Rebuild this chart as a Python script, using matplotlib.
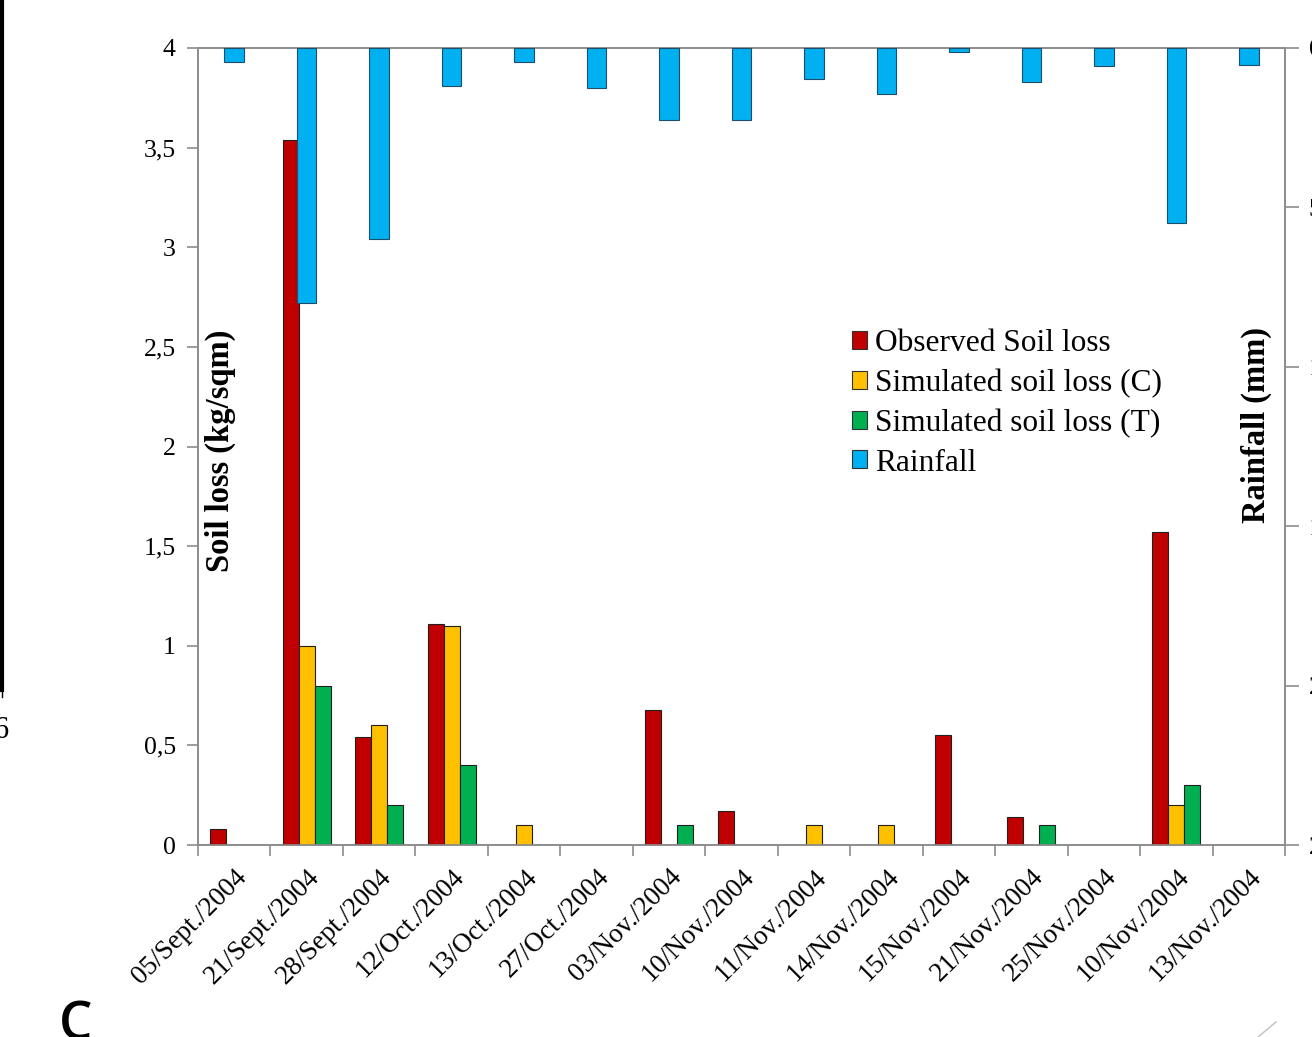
import matplotlib
matplotlib.use("Agg")
import matplotlib.pyplot as plt
from matplotlib.patches import Patch
from matplotlib.lines import Line2D
import numpy as np

dates = ["05/Sept./2004", "21/Sept./2004", "28/Sept./2004", "12/Oct./2004",
         "13/Oct./2004", "27/Oct./2004", "03/Nov./2004", "10/Nov./2004",
         "11/Nov./2004", "14/Nov./2004", "15/Nov./2004", "21/Nov./2004",
         "25/Nov./2004", "10/Nov./2004", "13/Nov./2004"]
observed = [0.08, 3.54, 0.54, 1.11, 0.0, 0.0, 0.68, 0.17, 0.0, 0.0, 0.55, 0.14, 0.0, 1.57, 0.0]
sim_c = [0.0, 1.0, 0.6, 1.1, 0.1, 0.0, 0.0, 0.0, 0.1, 0.1, 0.0, 0.0, 0.0, 0.2, 0.0]
sim_t = [0.0, 0.8, 0.2, 0.4, 0.0, 0.0, 0.1, 0.0, 0.0, 0.0, 0.0, 0.1, 0.0, 0.3, 0.0]
rainfall = [0.44, 8.0, 6.0, 1.2, 0.44, 1.25, 2.26, 2.26, 0.97, 1.44, 0.13, 1.07, 0.56, 5.5, 0.53]
left_ticks = [0, 0.5, 1, 1.5, 2, 2.5, 3, 3.5, 4]
left_ticklabels = ["0", "0,5", "1", "1,5", "2", "2,5", "3", "3,5", "4"]
right_ticks = [0, 5, 10, 15, 20, 25]

plt.rcParams['font.family'] = ['Liberation Serif', 'DejaVu Serif']

W, H = 1312, 1037
fig = plt.figure(figsize=(W / 100, H / 100), dpi=100)
ax = fig.add_axes([198 / W, 1 - 845 / H, (1285 - 198) / W, (845 - 48) / H])
ax2 = ax.twinx()

red, yellow, green, blue = "#C00000", "#FFC000", "#00B050", "#00B0F0"
x = np.arange(len(dates))
bw = 0.22
edge = dict(edgecolor="#202020", linewidth=0.8)
ax.bar(x - bw, observed, bw, color=red, zorder=3, **edge)
ax.bar(x, sim_c, bw, color=yellow, zorder=3, **edge)
ax.bar(x + bw, sim_t, bw, color=green, zorder=3, **edge)
ax2.bar(x, rainfall, 0.27, color=blue, edgecolor="#1d4e6b", linewidth=0.8, zorder=3)

ax.set_xlim(-0.5, len(dates) - 0.5)
ax.set_ylim(0, 4)
ax2.set_ylim(25, 0)

grey = "#8c8c8c"
for a in (ax, ax2):
    for s in a.spines.values():
        s.set_color(grey)
        s.set_linewidth(1.2)

ax.set_yticks(left_ticks)
ax.set_yticklabels(left_ticklabels, fontsize=18.5)
ax.tick_params(axis='y', length=8, width=1.2, color=grey, pad=8)
ax.set_xticks(np.arange(-0.5, len(dates), 1.0), minor=False)
ax.set_xticklabels([])
ax.tick_params(axis='x', which='major', length=8, width=1.2, color=grey)
ax.set_xticks(x, minor=True)
ax.set_xticklabels(dates, minor=True, rotation=45, ha='right', rotation_mode='anchor', fontsize=19.5)
ax.tick_params(axis='x', which='minor', length=0, pad=14)

ax2.set_yticks(right_ticks)
ax2.set_yticklabels([str(t) for t in right_ticks], fontsize=18.5)
ax2.tick_params(axis='y', length=10, width=1.2, color=grey, pad=7)

ax.text(0.021, 0.494, "Soil loss (kg/sqm)", transform=ax.transAxes, rotation=90,
        ha='center', va='center', fontsize=23.5, fontweight='bold', zorder=5)
ax2.text(0.974, 0.527, "Rainfall (mm)", transform=ax2.transAxes, rotation=90,
         ha='center', va='center', fontsize=23.5, fontweight='bold', zorder=5)

handles = [Patch(facecolor=c, edgecolor="#303030", linewidth=0.8) for c in (red, yellow, green, blue)]
labels = ["Observed Soil loss", "Simulated soil loss (C)", "Simulated soil loss (T)", "Rainfall"]
leg = ax2.legend(handles, labels, loc='upper left', bbox_to_anchor=(0.581, 0.675),
                 frameon=False, fontsize=22.6, handlelength=0.5, handleheight=0.5,
                 handletextpad=0.25, labelspacing=0.34, borderpad=0.2)

# cropped-figure remnants
fig.add_artist(Line2D([1.5 / W, 1.5 / W], [1, 1 - 690 / H], color="black", linewidth=3))
fig.add_artist(Line2D([1.5 / W, 1.5 / W], [1 - 690 / H, 1 - 697 / H], color="black", linewidth=1))
fig.text(-6 / W, 1 - 730 / H, "6", fontsize=22, ha='left', va='center')
fig.text(76 / W, 1 - 1026 / H, "C", fontsize=38, family=['Open Sans', 'DejaVu Sans'],
         fontweight='semibold', ha='center', va='center')
fig.add_artist(Line2D([1258 / W, 1276 / W], [1 - 1037 / H, 1 - 1022 / H], color="#c8c8c8", linewidth=1.2))

fig.savefig("out.png", dpi=100)
